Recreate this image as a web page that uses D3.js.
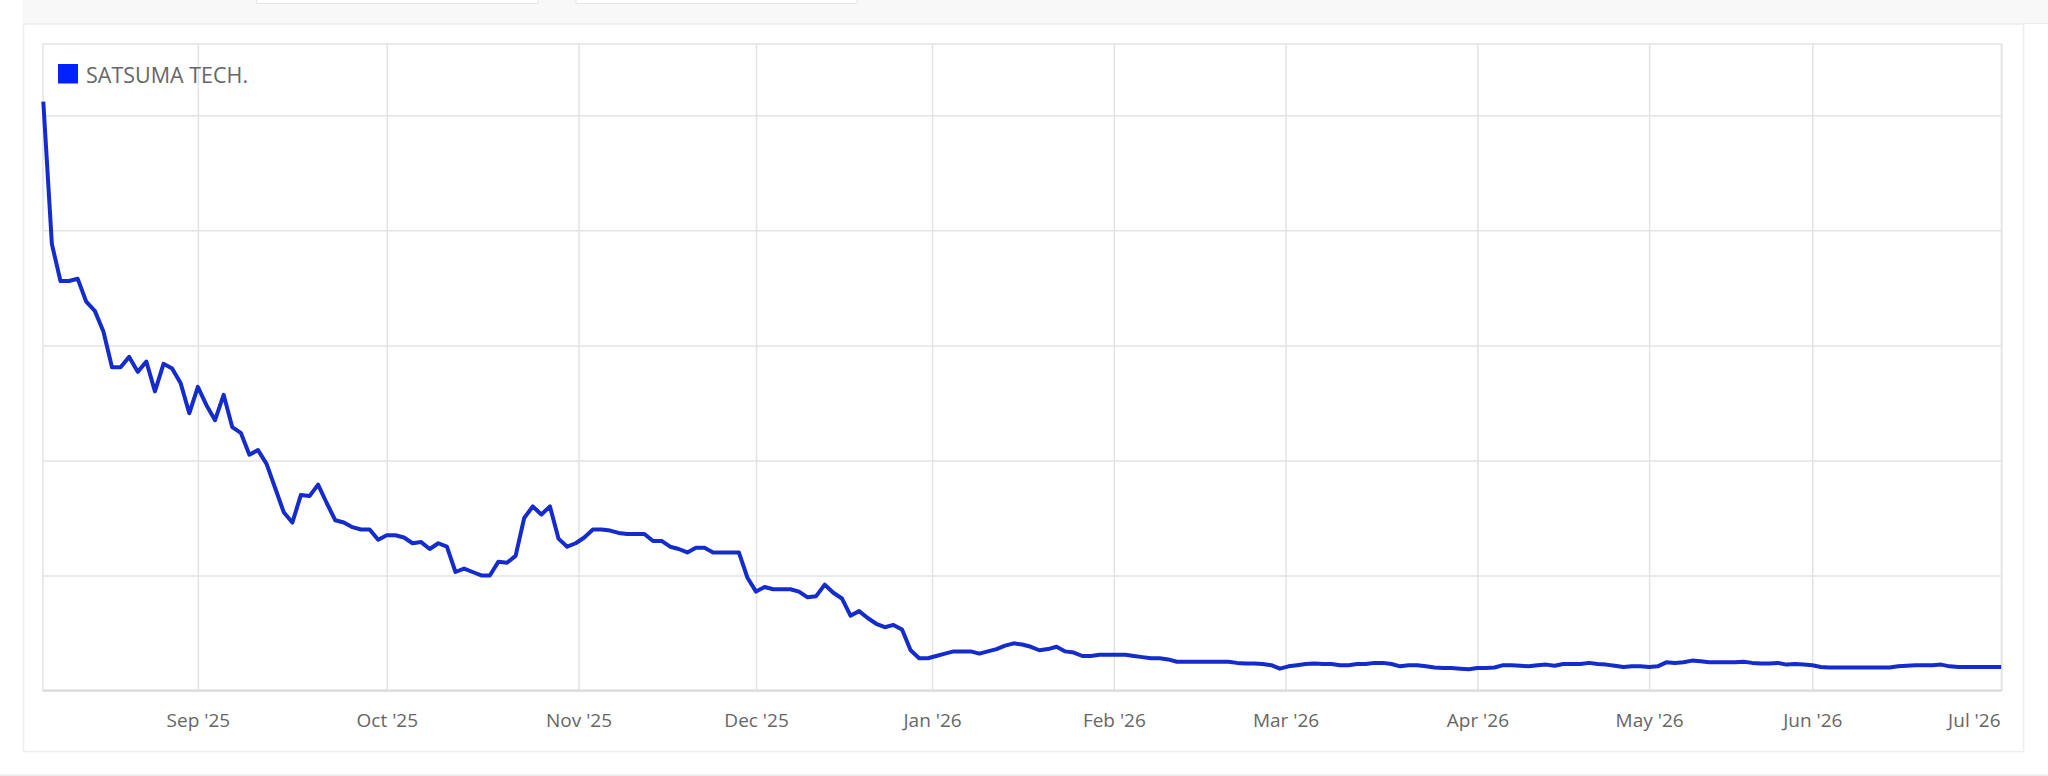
<!DOCTYPE html>
<html>
<head>
<meta charset="utf-8">
<script src="https://cdn.jsdelivr.net/npm/d3@7"></script>
<style>
  html, body { margin: 0; padding: 0; background: #ffffff; }
  svg { display: block; }
</style>
</head>
<body>
<svg id="chart" width="2048" height="776"></svg>
<script>
// ---------------- DATA ----------------
const seriesName = "SATSUMA TECH.";
// trading calendar (London): first/last session and market holidays
const firstSession = "2025-08-05";
const lastSession = "2026-07-01";
const marketHolidays = ["2025-08-25", "2025-12-25", "2025-12-26", "2026-01-01",
                        "2026-04-03", "2026-04-06", "2026-05-04", "2026-05-25"];
// one value per trading session (chart units, unlabeled y axis)
const prices = [
  51.2, 38.8, 35.6, 35.6, 35.8, 33.8, 33.0, 31.2, 28.1, 28.1,   // 0-9
  29.0, 27.7, 28.6, 26.0, 28.4, 28.0, 26.7, 24.1, 26.4, 24.8,   // 10-19
  23.5, 25.7, 22.9, 22.4, 20.5, 20.9, 19.7, 17.6, 15.5, 14.6,   // 20-29
  17.0, 16.9, 17.9, 16.3, 14.8, 14.6, 14.2, 14.0, 14.0, 13.1,   // 30-39
  13.5, 13.5, 13.3, 12.8, 12.9, 12.3, 12.8, 12.5, 10.3, 10.6,   // 40-49
  10.3, 10.0, 10.0, 11.2, 11.1, 11.7, 15.0, 16.0, 15.3, 16.0,   // 50-59
  13.2, 12.5, 12.8, 13.3, 14.0, 14.0, 13.9, 13.7, 13.6, 13.6,   // 60-69
  13.6, 13.0, 13.0, 12.5, 12.3, 12.0, 12.4, 12.4, 12.0, 12.0,   // 70-79
  12.0, 12.0, 9.8, 8.6, 9.0, 8.8, 8.8, 8.8, 8.6, 8.1,           // 80-89
  8.2, 9.2, 8.5, 8.0, 6.5, 6.9, 6.3, 5.8, 5.5, 5.7,             // 90-99
  5.3, 3.5, 2.8, 2.8, 3.0, 3.2, 3.4, 3.4, 3.4, 3.2,             // 100-109
  3.4, 3.6, 3.9, 4.1, 4.0, 3.8, 3.5, 3.6, 3.8, 3.4,             // 110-119
  3.3, 3.0, 3.0, 3.1, 3.1, 3.1, 3.1, 3.0, 2.9, 2.8,             // 120-129
  2.8, 2.7, 2.5, 2.5, 2.5, 2.5, 2.5, 2.5, 2.5, 2.4,             // 130-139
  2.35, 2.35, 2.3, 2.2, 1.9, 2.1, 2.2, 2.3, 2.35, 2.3,          // 140-149
  2.3, 2.2, 2.2, 2.3, 2.3, 2.4, 2.4, 2.3, 2.1, 2.2,             // 150-159
  2.2, 2.1, 2.0, 1.95, 1.95, 1.9, 1.85, 1.95, 1.95, 2.0,        // 160-169
  2.2, 2.2, 2.15, 2.1, 2.2, 2.25, 2.15, 2.3, 2.3, 2.3,          // 170-179
  2.4, 2.3, 2.25, 2.15, 2.05, 2.1, 2.1, 2.05, 2.1, 2.45,        // 180-189
  2.4, 2.45, 2.6, 2.55, 2.45, 2.45, 2.45, 2.45, 2.5, 2.4,       // 190-199
  2.35, 2.35, 2.4, 2.25, 2.3, 2.25, 2.2, 2.05, 2.0, 2.0,        // 200-209
  2.0, 2.0, 2.0, 2.0, 2.0, 2.0, 2.1, 2.15, 2.2, 2.2,            // 210-219
  2.2, 2.25, 2.1, 2.05, 2.05, 2.05, 2.05, 2.05, 2.05            // 220-228
];
const monthTicks = ["2025-09-01", "2025-10-01", "2025-11-01", "2025-12-01", "2026-01-01",
                    "2026-02-01", "2026-03-01", "2026-04-01", "2026-05-01", "2026-06-01", "2026-07-01"];
const yGridValues = [0, 10, 20, 30, 40, 50];
const yMax = 56.2;

// ---------------- BUILD ----------------
const parse = d3.utcParse("%Y-%m-%d");
const fmtDay = d3.utcFormat("%Y-%m-%d");
const holidaySet = new Set(marketHolidays);
const sessions = d3.utcDay.range(parse(firstSession), d3.utcDay.offset(parse(lastSession), 1))
  .filter(d => d.getUTCDay() !== 0 && d.getUTCDay() !== 6 && !holidaySet.has(fmtDay(d)));
const data = sessions.map((d, i) => ({ date: d, value: prices[i] })).filter(d => d.value != null);

const svg = d3.select("#chart");
const W = 2048, H = 776;

// page chrome
svg.append("rect").attr("x", 0).attr("y", 0).attr("width", W).attr("height", H).attr("fill", "#ffffff");
svg.append("rect").attr("x", 23).attr("y", 0).attr("width", W - 23).attr("height", 23.5).attr("fill", "#f8f8f8");
svg.append("line").attr("x1", 23).attr("x2", W).attr("y1", 23.5).attr("y2", 23.5).attr("stroke", "#ececec").attr("stroke-width", 1);
[[256.5, 538], [576, 857]].forEach(([a, b]) => {
  svg.append("rect").attr("x", a).attr("y", -6).attr("width", b - a).attr("height", 9.5)
    .attr("fill", "#ffffff").attr("stroke", "#e6e6e6").attr("stroke-width", 1);
});
svg.append("rect").attr("x", 23.5).attr("y", 24).attr("width", 2000).attr("height", 727.5)
  .attr("fill", "#ffffff").attr("stroke", "#eeeeee").attr("stroke-width", 1.5);
svg.append("rect").attr("x", 0).attr("y", 775).attr("width", W).attr("height", 1).attr("fill", "#f4f4f4");
svg.append("line").attr("x1", 0).attr("x2", W).attr("y1", 775).attr("y2", 775).attr("stroke", "#e6e6e6").attr("stroke-width", 1.2);

// plot area
const plot = { left: 43, right: 2001.5, top: 44, bottom: 690.5 };
const x = d3.scaleLinear().domain([0, data.length - 1]).range([plot.left + 0.3, plot.right - 0.3]);
const y = d3.scaleLinear().domain([0, yMax]).range([plot.bottom, plot.top]);

// ordinal position of a calendar date between trading sessions
const bis = d3.bisector(d => d.date).left;
function dateIndex(d) {
  const i = bis(data, d);
  if (i <= 0) return 0;
  if (i >= data.length) return data.length - 1;
  if (+data[i].date === +d) return i;
  const a = data[i - 1].date, b = data[i].date;
  return i - 1 + (d - a) / (b - a);
}
const tickDates = monthTicks.map(parse);
const tickPos = tickDates.map(dateIndex);
const tickLabel = new Map(tickPos.map((p, k) => [p, d3.utcFormat("%b '%y")(tickDates[k])]));

// horizontal grid
const gy = svg.append("g").attr("transform", `translate(${plot.left},0)`)
  .call(d3.axisLeft(y).tickValues(yGridValues).tickSize(-(plot.right - plot.left)).tickFormat(""));
gy.select(".domain").remove();
gy.selectAll(".tick line").attr("stroke", "#e3e3e3").attr("stroke-width", 1.5);

// vertical grid
const gx = svg.append("g").attr("transform", `translate(0,${plot.bottom})`)
  .call(d3.axisBottom(x).tickValues(tickPos).tickSize(-(plot.bottom - plot.top)).tickFormat(""));
gx.select(".domain").remove();
gx.selectAll(".tick line").attr("stroke", "#e3e3e3").attr("stroke-width", 1.5);

// plot frame
svg.append("rect").attr("x", plot.left).attr("y", plot.top)
  .attr("width", plot.right - plot.left).attr("height", plot.bottom - plot.top)
  .attr("fill", "none").attr("stroke", "#e3e3e3").attr("stroke-width", 1.5);
svg.append("line").attr("x1", plot.left).attr("x2", plot.right).attr("y1", plot.bottom).attr("y2", plot.bottom)
  .attr("stroke", "#dcdcdc").attr("stroke-width", 2);

// x labels
const gl = svg.append("g").attr("transform", `translate(0,${plot.bottom})`)
  .call(d3.axisBottom(x).tickValues(tickPos).tickSize(0).tickPadding(0).tickFormat(p => tickLabel.get(p)));
gl.select(".domain").remove();
gl.selectAll(".tick text")
  .attr("y", 36).attr("dy", null)
  .attr("font-family", "'Open Sans', 'Liberation Sans', sans-serif")
  .attr("font-size", "19px").attr("fill", "#666666");
gl.selectAll(".tick").each(function(p) {
  const t = d3.select(this).select("text");
  const w = t.node().getComputedTextLength();
  const cx = x(p);
  if (cx + w / 2 > plot.right - 1) {
    t.attr("text-anchor", "end").attr("x", (plot.right - 1.5) - cx);
  }
});

// series line
const line = d3.line().x((d, i) => x(i)).y(d => y(d.value)).curve(d3.curveLinear);
svg.append("path").datum(data)
  .attr("d", line)
  .attr("fill", "none")
  .attr("stroke", "#142ccc")
  .attr("stroke-width", 4)
  .attr("stroke-linejoin", "round")
  .attr("stroke-linecap", "butt");

// legend
const lg = svg.append("g").attr("transform", "translate(58,64)");
lg.append("rect").attr("width", 20).attr("height", 19.5).attr("fill", "#0022ff");
lg.append("text").attr("x", 28).attr("y", 19.3)
  .attr("font-family", "'Open Sans', 'Liberation Sans', sans-serif")
  .attr("font-size", "21.5px").attr("fill", "#666666")
  .text(seriesName);
</script>
</body>
</html>
